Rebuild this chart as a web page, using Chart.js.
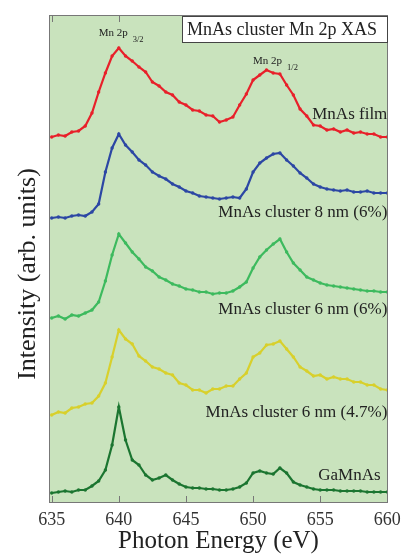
<!DOCTYPE html>
<html>
<head>
<meta charset="utf-8">
<script src="https://cdn.jsdelivr.net/npm/chart.js@4.4.1/dist/chart.umd.min.js"></script>
<style>
  html, body { margin: 0; padding: 0; background: #fff; }
  canvas { display: block; }
</style>
</head>
<body>
<canvas id="xas" width="401" height="556"></canvas>
<script>
// photon energy grid (eV)
const energies = [
  635, 635.5, 636, 636.5, 637, 637.5, 638, 638.5, 639, 639.5,
  640, 640.5, 641, 641.5, 642, 642.5, 643, 643.5, 644, 644.5,
  645, 645.5, 646, 646.5, 647, 647.5, 648, 648.5, 649, 649.5,
  650, 650.5, 651, 651.5, 652, 652.5, 653, 653.5, 654, 654.5,
  655, 655.5, 656, 656.5, 657, 657.5, 658, 658.5, 659, 659.5, 660
];

// intensities (arb. units, curves already offset)
const mnasFilm = [
  366, 368, 367, 371, 372, 377, 390, 411, 430, 447,
  455, 447, 442, 436, 431, 421, 417, 411, 408, 401,
  398, 393, 392, 388, 387, 381, 383, 386, 398, 409,
  423, 428, 433, 430, 429, 418, 408, 394, 387, 378,
  377, 373, 374, 371, 373, 370, 371, 369, 369, 366, 366
];
const cluster8nm = [
  285, 286, 285, 287, 288, 287, 291, 299, 331, 355,
  369, 358, 351, 343, 338, 331, 327, 324, 319, 316,
  312, 310, 307, 306, 305, 304, 305, 306, 305, 314,
  331, 340, 345, 349, 350, 343, 337, 330, 325, 319,
  316, 314, 313, 312, 313, 311, 311, 312, 310, 310, 310
];
const cluster6nm = [
  185, 187, 184, 188, 187, 190, 193, 201, 222, 248,
  269, 260, 251, 244, 236, 232, 226, 223, 219, 217,
  214, 213, 211, 211, 209, 210, 210, 212, 216, 221,
  235, 246, 253, 259, 264, 251, 240, 233, 226, 223,
  220, 218, 217, 216, 215, 214, 213, 212, 212, 211, 211
];
const cluster6nmLow = [
  88, 91, 90, 95, 96, 99, 100, 107, 120, 146,
  173, 164, 159, 147, 142, 136, 134, 130, 128, 120,
  118, 113, 113, 110, 114, 114, 117, 117, 124, 130,
  146, 150, 158, 159, 162, 154, 146, 136, 132, 127,
  128, 124, 126, 124, 124, 121, 121, 118, 118, 114, 113
];
const gaMnAs = [
  10, 11, 12, 11, 13, 13, 17, 22, 33, 58,
  96, 63, 43, 38, 28, 23, 25, 28, 23, 19,
  16, 15, 15, 14, 14, 13, 13, 14, 16, 20,
  30, 32, 30, 29, 35, 30, 21, 18, 16, 14,
  13, 13, 13, 12, 12, 12, 12, 11, 11, 11, 11
];

const seriesNames = ["MnAs film", "MnAs cluster 8 nm (6%)", "MnAs cluster 6 nm (6%)", "MnAs cluster 6 nm (4.7%)", "GaMnAs"];
const seriesValues = [mnasFilm, cluster8nm, cluster6nm, cluster6nmLow, gaMnAs];
const seriesColors = ["#e8202a", "#2c47a4", "#3dba5e", "#d8d02c", "#1b7530"];

const xTicks = [635, 640, 645, 650, 655, 660];

// curve labels, anchored at their right end in data units
const curveLabels = [
  { text: "MnAs film", x: 660, y: 388 },
  { text: "MnAs cluster 8 nm (6%)", x: 660, y: 290 },
  { text: "MnAs cluster 6 nm (6%)", x: 660, y: 193 },
  { text: "MnAs cluster 6 nm (4.7%)", x: 660, y: 90 },
  { text: "GaMnAs", x: 659.5, y: 27 }
];
const peakLabels = [
  { text: "Mn 2p", sub: "3/2", x: 638.5, y: 470 },
  { text: "Mn 2p", sub: "1/2", x: 650, y: 442 }
];
const boxTitle = "MnAs cluster Mn 2p XAS";

const SERIF = "'Liberation Serif', 'DejaVu Serif', serif";

const decorations = {
  id: "decorations",
  beforeDatasetsDraw(chart) {
    const { ctx, chartArea: a } = chart;
    ctx.save();
    ctx.fillStyle = "#c9e3bd";
    ctx.fillRect(a.left, a.top, a.right - a.left, a.bottom - a.top);
    ctx.restore();
  },
  afterDatasetsDraw(chart) {
    const { ctx, chartArea: a, scales: { x, y } } = chart;
    ctx.save();

    // frame + inward ticks
    ctx.strokeStyle = "#777";
    ctx.lineWidth = 1;
    ctx.strokeRect(a.left + 0.5, a.top + 0.5, a.right - a.left - 1, a.bottom - a.top - 1);
    ctx.beginPath();
    xTicks.forEach(v => {
      const px = Math.round(x.getPixelForValue(v)) + 0.5;
      ctx.moveTo(px, a.bottom); ctx.lineTo(px, a.bottom - 7);
      ctx.moveTo(px, a.top); ctx.lineTo(px, a.top + 7);
    });
    ctx.stroke();

    // peak labels
    ctx.fillStyle = "#222";
    ctx.textBaseline = "middle";
    ctx.textAlign = "left";
    peakLabels.forEach(p => {
      const px = x.getPixelForValue(p.x), py = y.getPixelForValue(p.y);
      ctx.font = "11px " + SERIF;
      ctx.fillText(p.text, px, py);
      const w = ctx.measureText(p.text).width;
      ctx.font = "8.5px " + SERIF;
      ctx.fillText(p.sub, px + w + 5, py + 7);
    });

    // curve labels
    ctx.font = "17px " + SERIF;
    ctx.textAlign = "right";
    curveLabels.forEach(l => {
      ctx.fillText(l.text, x.getPixelForValue(l.x), y.getPixelForValue(l.y));
    });

    // title box in the top right corner
    const bx = 182, by = a.top + 1, bw = a.right - bx, bh = 27;
    ctx.fillStyle = "#fff";
    ctx.fillRect(bx, by, bw, bh);
    ctx.strokeStyle = "#444";
    ctx.strokeRect(bx + 0.5, by + 0.5, bw - 1, bh - 1);
    ctx.fillStyle = "#222";
    ctx.textAlign = "center";
    ctx.font = "18px " + SERIF;
    ctx.fillText(boxTitle, bx + bw / 2 - 3, by + bh / 2 + 1);

    // y axis title
    ctx.translate(28, 274);
    ctx.rotate(-Math.PI / 2);
    ctx.font = "26px " + SERIF;
    ctx.fillText("Intensity (arb. units)", 0, 0);

    ctx.restore();
  }
};

new Chart(document.getElementById("xas"), {
  type: "line",
  data: {
    datasets: seriesValues.map((vals, i) => ({
      label: seriesNames[i],
      data: energies.map((e, j) => ({ x: e, y: vals[j] })),
      borderColor: seriesColors[i],
      backgroundColor: seriesColors[i],
      borderWidth: 2.2,
      pointRadius: 1.7,
      pointBorderWidth: 0,
      tension: 0
    }))
  },
  options: {
    responsive: false,
    animation: false,
    layout: { padding: { left: 49, right: 13, top: 15, bottom: 0 } },
    plugins: { legend: { display: false }, tooltip: { enabled: false } },
    scales: {
      x: {
        type: "linear",
        min: 634.8,
        max: 660.05,
        afterBuildTicks: s => { s.ticks = xTicks.map(v => ({ value: v })); },
        afterFit: s => { s.height = 53; s.paddingLeft = 0; s.paddingRight = 0; },
        grid: { display: false, drawTicks: false },
        border: { display: false },
        ticks: {
          padding: 6,
          color: "#333",
          autoSkip: false,
          maxRotation: 0,
          font: { family: SERIF, size: 18 }
        },
        title: {
          display: true,
          text: "Photon Energy (eV)",
          color: "#222",
          font: { family: SERIF, size: 25 },
          padding: { top: 0, bottom: 0 }
        }
      },
      y: { display: false, min: 0, max: 488 }
    }
  },
  plugins: [decorations]
});
</script>
</body>
</html>
